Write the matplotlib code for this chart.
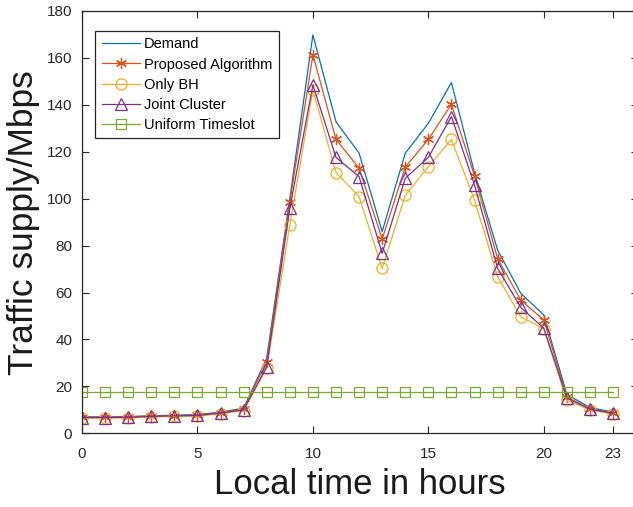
import matplotlib
matplotlib.use('Agg')
import matplotlib.pyplot as plt

plt.rcParams['font.family'] = ['Liberation Sans', 'DejaVu Sans']

# hourly traffic, Mbps
hours = list(range(24))
demand = [7.0, 7.0, 7.1, 7.5, 7.7, 8.0, 9.0, 10.7, 32.0, 100.0, 169.8, 132.8,
          119.4, 86.0, 119.4, 132.1, 149.5, 111.0, 78.1, 59.7, 50.4, 16.5, 11.0, 9.0]
proposed = [6.9, 6.9, 7.0, 7.3, 7.5, 7.8, 8.8, 10.3, 30.5, 98.5, 161.3, 125.3,
            113.0, 82.8, 113.4, 125.3, 140.2, 109.7, 74.5, 56.8, 48.3, 15.5, 10.5, 8.7]
only_bh = [6.5, 6.5, 6.6, 7.0, 7.2, 7.4, 8.3, 9.7, 27.7, 88.8, 146.3, 111.1,
           100.9, 70.3, 101.4, 113.6, 125.3, 99.4, 66.8, 49.7, 44.5, 14.0, 10.0, 8.2]
joint = [6.7, 6.7, 6.8, 7.2, 7.4, 7.6, 8.6, 10.0, 28.4, 95.9, 148.5, 117.6,
         109.4, 76.7, 108.7, 117.6, 135.0, 105.8, 70.3, 53.7, 44.8, 15.0, 10.3, 8.5]
uniform = [17.5, 17.5, 17.5, 17.5, 17.5, 17.5, 17.5, 17.5, 17.5, 17.5, 17.5, 17.5,
           17.5, 17.5, 17.5, 17.5, 17.5, 17.5, 17.5, 17.5, 17.5, 17.5, 17.5, 17.5]

xticks = [0, 5, 10, 15, 20, 23]
yticks = [0, 20, 40, 60, 80, 100, 120, 140, 160, 180]

fig = plt.figure(figsize=(6.33, 5.07), dpi=100)
ax = fig.add_axes([82/633, 1-433.3/507, 556/633, 422.3/507])

lw = 0.9
ax.plot(hours, demand, color='#0072BD', lw=lw, label='Demand')
ax.plot(hours, proposed, color='#D95319', lw=lw, marker=(6, 2, 0), ms=8,
        mew=0.9, label='Proposed Algorithm')
ax.plot(hours, only_bh, color='#EDB120', lw=lw, marker='o', ms=8,
        mfc='none', mew=0.9, label='Only BH')
ax.plot(hours, joint, color='#7E2F8E', lw=lw, marker='^', ms=8.5,
        mfc='none', mew=0.9, label='Joint Cluster')
ax.plot(hours, uniform, color='#77AC30', lw=lw, marker='s', ms=6.5,
        mfc='none', mew=0.9, label='Uniform Timeslot')

ax.set_xlim(0, 24.08)
ax.set_ylim(0, 180)
ax.set_xticks(xticks)
ax.set_yticks(yticks)
ax.tick_params(direction='in', top=True, right=True, labelsize=11,
               length=5, width=0.8, colors='#262626')
ax.tick_params(axis='x', pad=10)
ax.tick_params(axis='y', pad=7)
for s in ax.spines.values():
    s.set_linewidth(0.9)
    s.set_color('#262626')

ax.set_xlabel('Local time in hours', fontsize=25, color='#1a1a1a', labelpad=5)
ax.set_ylabel('Traffic supply/Mbps', fontsize=25.5, color='#1a1a1a', labelpad=5)

leg = ax.legend(loc='upper left', bbox_to_anchor=(0.0235, 0.953), fontsize=10.5,
                handlelength=2.6, handletextpad=0.3, labelspacing=0.42,
                borderpad=0.45, borderaxespad=0, fancybox=False, framealpha=1)
leg.get_frame().set_edgecolor('#262626')
leg.get_frame().set_linewidth(0.9)

fig.savefig('out.png', dpi=100)
